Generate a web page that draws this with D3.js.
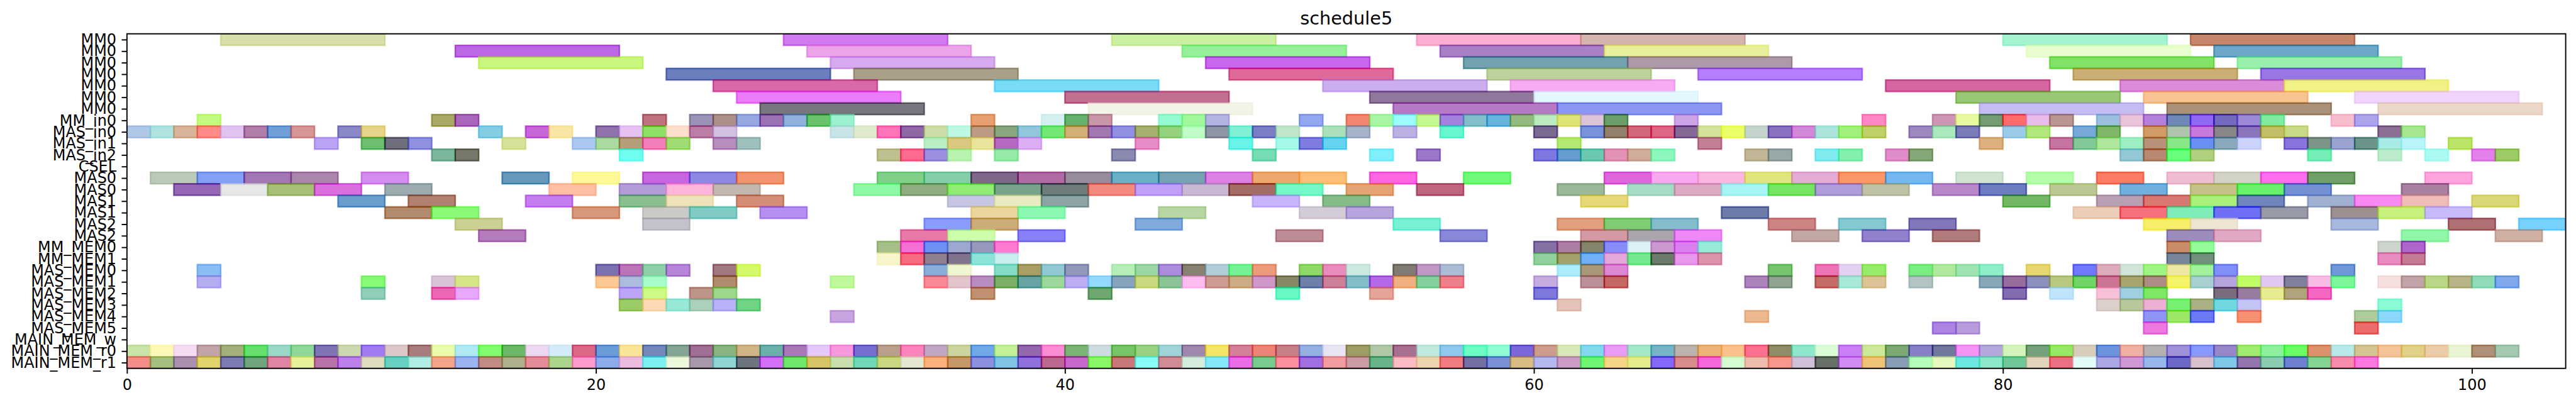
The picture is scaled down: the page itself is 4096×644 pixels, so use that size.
<!DOCTYPE html>
<html><head><meta charset="utf-8">
<script src="https://cdn.jsdelivr.net/npm/d3@7/dist/d3.min.js"></script>
<style>html,body{margin:0;padding:0;background:#fff;overflow:hidden}svg{display:block}</style>
</head><body><div id="chart"></div>
<script>
const rowLabels=["MM0","MM0","MM0","MM0","MM0","MM0","MM0","MM_in0","MAS_in0","MAS_in1","MAS_in2","CSEL","MAS0","MAS0","MAS1","MAS1","MAS2","MAS2","MM_MEM0","MM_MEM1","MAS_MEM0","MAS_MEM1","MAS_MEM2","MAS_MEM3","MAS_MEM4","MAS_MEM5","MAIN_MEM_w","MAIN_MEM_r0","MAIN_MEM_r1"];
const durations=[7,7,7,7,7,7,7,1,1,1,1,1,2,2,2,2,2,2,1,1,1,1,1,1,1,1,1,1,1];
const xTicks=[0,20,40,60,80,100];
const chartTitle="schedule5";
// each pair: start cycle, colour as seen on white
const row00=[[4,"d8dea8"],[28,"d07af0"],[42,"cbefa0"],[55,"fdaed2"],[62,"d4b4ac"],[80,"a4f4d2"],[88,"c5866c"]];
const row01=[[14,"bc68e4"],[29,"eba4ea"],[45,"96f09a"],[56,"a980c5"],[63,"e9f09b"],[81,"e9fecf"],[89,"6ea8c8"]];
const row02=[[15,"c9f67c"],[30,"d7a9ef"],[46,"c966ee"],[57,"72a2ae"],[64,"ac9aa9"],[82,"81e267"],[90,"98f0aa"]];
const row03=[[23,"6b7ebd"],[31,"a9a08a"],[47,"e0699b"],[58,"bdd19c"],[67,"b47efe"],[83,"cbae76"],[91,"9876e4"]];
const row04=[[25,"da69aa"],[37,"78dcf7"],[51,"cbaeee"],[59,"f7abf5"],[75,"d565a1"],[85,"da8cd8"],[92,"f0f285"]];
const row05=[[26,"ea7bf9"],[40,"c26f92"],[53,"90789c"],[60,"e4f6fe"],[78,"98c876"],[86,"f7c391"],[95,"f0d4fb"]];
const row06=[[27,"787780"],[41,"f3f3e8"],[54,"b679c3"],[61,"8c96f4"],[79,"c5bcf1"],[87,"aa927a"],[96,"ecd8ca"]];
const row07=[[3,"c2fb80"],[13,"aaa865"],[14,"aa68bd"],[22,"bf717d"],[24,"9a92b7"],[25,"ac8f88"],[26,"98a8e0"],[27,"9b73b5"],[28,"8fb1db"],[29,"69c36d"],[30,"9cf2cf"],[36,"e8a070"],[39,"d6f0f2"],[40,"68b06e"],[41,"c998a8"],[44,"96fbd0"],[45,"a0f89c"],[46,"b4b4e2"],[50,"93a7f0"],[52,"f3866f"],[53,"a8f6a4"],[54,"9cfefc"],[55,"c4f890"],[56,"a281df"],[57,"82bfca"],[58,"66b4dc"],[59,"94ba80"],[60,"bbecbf"],[61,"dfe277"],[62,"dbc4d8"],[63,"6c9e6b"],[66,"cba5e6"],[74,"ff88c4"],[77,"ce96b5"],[78,"e8faa0"],[79,"739c74"],[80,"ff6a6a"],[81,"e9bbe8"],[82,"ba9690"],[84,"9dbfde"],[85,"e9c4da"],[86,"b481da"],[87,"6f88b7"],[88,"8f69f3"],[89,"736ac0"],[90,"9c8ad8"],[91,"80eba0"],[94,"f7bdcc"],[95,"aca4ec"]];
const row08=[[0,"b0c8e8"],[1,"b0e2df"],[2,"d8b498"],[3,"ff8a86"],[4,"e0c4f0"],[5,"b07ea8"],[6,"709ed8"],[7,"d69696"],[9,"8a88c6"],[10,"e6d488"],[15,"84cee4"],[17,"c666d8"],[18,"fae6a4"],[20,"8e72aa"],[21,"e6c2f2"],[22,"8fe060"],[23,"fddfce"],[24,"bc7ea6"],[25,"d2c0e0"],[30,"c8e4e6"],[31,"dfeacf"],[32,"ff74b8"],[33,"9168a6"],[34,"ccdea8"],[35,"bef8e2"],[36,"bc9a84"],[37,"8aa680"],[38,"92c6dc"],[39,"74e874"],[40,"d4b078"],[41,"a278b0"],[42,"9290e2"],[43,"a4b070"],[44,"94d280"],[45,"c0fcc8"],[46,"8e96a6"],[47,"80f0d6"],[48,"7a7ec4"],[49,"c0e6c8"],[51,"aae0bc"],[52,"a6b4ca"],[54,"bcb0e4"],[56,"68f6d0"],[60,"7b6a94"],[62,"7892dc"],[63,"92806c"],[64,"d2687a"],[65,"de6684"],[66,"846896"],[67,"d4e29c"],[68,"ecff68"],[69,"c4d4cc"],[70,"8a72c0"],[71,"d288d8"],[72,"ace4dc"],[73,"a2f07c"],[74,"bed068"],[76,"9e88c0"],[77,"aae8be"],[78,"7a7cb8"],[80,"9ccbea"],[81,"b0e87c"],[83,"78a8d8"],[84,"80b668"],[86,"d29c64"],[87,"b0c4ae"],[88,"c87adc"],[89,"888688"],[90,"8a74bc"],[91,"c2bf68"],[92,"c8d988"],[96,"8c7094"],[97,"a6e68e"]];
const row09=[[8,"baa2f4"],[10,"6ebe70"],[11,"706f7c"],[12,"9090e0"],[16,"d6e29a"],[19,"acc8f2"],[20,"aadaa0"],[21,"b49e78"],[22,"f27eba"],[23,"a0dc74"],[25,"b88cbc"],[26,"a0c0be"],[34,"b8eec4"],[35,"dac880"],[36,"e8e49c"],[37,"b468c0"],[38,"deaef4"],[43,"e88cc8"],[47,"68f4e8"],[49,"a4f8e8"],[50,"7e7cdf"],[51,"66d4f0"],[61,"b4e870"],[67,"c28094"],[79,"dcb080"],[82,"c4749e"],[83,"82c898"],[84,"aee69c"],[85,"9eeec4"],[86,"b89278"],[87,"88e888"],[88,"6a90f6"],[89,"8aaabc"],[90,"ccd4fb"],[92,"8874dc"],[93,"7e9488"],[94,"9ba4d0"],[95,"6a948a"],[96,"a8eae4"],[97,"b8f4fa"],[99,"bce468"]];
const row10=[[13,"7cb69c"],[14,"78786a"],[21,"70fef0"],[32,"bec090"],[33,"ff6a90"],[34,"9c8ee0"],[35,"b8f4b0"],[37,"94eaa6"],[42,"8a8ab0"],[48,"76dcb4"],[53,"80effc"],[55,"9c78c8"],[60,"7e78e0"],[61,"669cd0"],[62,"6cc8b0"],[63,"e292b6"],[64,"d0ac9a"],[65,"8cf6bc"],[69,"c2b698"],[70,"98a8a8"],[72,"80ecf0"],[73,"84f0b0"],[75,"e08cc8"],[76,"86a878"],[85,"94c8d4"],[86,"b88870"],[87,"68ff7c"],[88,"b0d080"],[93,"76eeb8"],[96,"bdeccc"],[98,"abfaf2"],[100,"e480ec"],[101,"9ecb68"]];
const row11=[];
const row12=[[1,"bccab8"],[3,"84a0f4"],[5,"a278b4"],[7,"aa86ac"],[10,"d48cf0"],[16,"6498bc"],[19,"fdf89a"],[22,"c866e0"],[24,"8c88e4"],[26,"f2946e"],[32,"80d088"],[34,"84ceaa"],[36,"806888"],[38,"b06aa4"],[40,"988c9c"],[42,"68b0c8"],[44,"76a2b4"],[46,"dc80e4"],[48,"eea86e"],[50,"febe78"],[53,"fc66e0"],[57,"70fa78"],[63,"e066dc"],[65,"f7a8f0"],[67,"fab8e0"],[69,"e0e580"],[71,"e4acd4"],[73,"fc9868"],[75,"74b8f2"],[78,"d0e2d0"],[81,"b4feaa"],[84,"fc7c66"],[87,"f0bcd2"],[89,"d2d2c6"],[91,"fe6ef0"],[93,"70a068"],[98,"ffa4dd"]];
const row13=[[2,"9468b4"],[4,"e6e8e8"],[6,"a6c078"],[8,"da70de"],[11,"9cacb0"],[18,"ffc0a4"],[21,"b49cd8"],[23,"ffb4dc"],[25,"c2b8b0"],[31,"8ef8a4"],[33,"90ac80"],[35,"90ec74"],[37,"78a28a"],[39,"6e7c7c"],[41,"f28a80"],[43,"c0a0f8"],[45,"c8b8d4"],[47,"a46e66"],[49,"74f8c8"],[52,"e6a474"],[55,"be6680"],[61,"9cb89a"],[64,"a6dcc4"],[66,"dcaac4"],[68,"a8f4f4"],[70,"78e464"],[72,"b09cd8"],[74,"c0c2a8"],[77,"b888c8"],[79,"6e7cc0"],[82,"bcc894"],[85,"70b0dc"],[88,"c4c288"],[90,"68f26c"],[92,"7490d4"],[97,"a880a0"]];
const row14=[[9,"6a9ccc"],[12,"b08070"],[17,"c47ef0"],[21,"88c090"],[23,"eee2b8"],[26,"d48e78"],[35,"c4c6e2"],[37,"e8ecc0"],[39,"8ea4a4"],[48,"c8b4f8"],[51,"84bc88"],[62,"e4d878"],[80,"74b866"],[84,"b8a0b4"],[86,"d87870"],[88,"aaf07c"],[90,"7284bc"],[93,"a0b0d0"],[95,"f888f4"],[97,"f0bcb8"],[100,"d8d878"]];
const row15=[[11,"b28a6c"],[13,"8cfa78"],[19,"d8967a"],[22,"cacac6"],[24,"80ccc4"],[27,"b490f0"],[36,"e8d69c"],[38,"8cf9b2"],[44,"b8d6a4"],[50,"d4ccd8"],[52,"b8a4dc"],[68,"6e7aa8"],[83,"ecceb8"],[85,"f6707c"],[87,"80ecb8"],[89,"7070f6"],[91,"989aa8"],[94,"9e9090"],[96,"c8f07c"],[98,"c8baf8"]];
const row16=[[14,"ccd094"],[22,"c4c2cc"],[34,"8a9cfe"],[36,"ccac78"],[43,"80aadc"],[54,"78f0d4"],[61,"e2a080"],[63,"80cc74"],[65,"84bccc"],[70,"cc8484"],[73,"84c8d0"],[76,"8078b8"],[86,"f6ee66"],[88,"eee4d2"],[94,"a6b8dc"],[99,"ae7074"],[102,"76d2fc"]];
const row17=[[15,"b47cbc"],[33,"e878a8"],[35,"ccfeac"],[38,"8880f8"],[49,"be8c96"],[56,"8888d8"],[62,"d49aa4"],[64,"aca4ac"],[66,"ee88f8"],[71,"c2a8a4"],[74,"9280cc"],[77,"b07c7c"],[87,"9c8cbe"],[89,"e0a8c4"],[97,"90f6a8"],[101,"d0b0a4"]];
const row18=[[32,"a4c088"],[33,"f470d4"],[34,"6c90f4"],[35,"9ca8d0"],[36,"9898bc"],[37,"ff7ad0"],[60,"8670a4"],[61,"ac7ea4"],[62,"84846c"],[63,"888cf8"],[64,"dcf2f6"],[65,"cc98d0"],[66,"dc80f0"],[67,"96ecd8"],[87,"c88c68"],[88,"94fc98"],[96,"ccd4cc"],[97,"ae66cc"]];
const row19=[[32,"f8f6cc"],[33,"f86a80"],[34,"907f90"],[35,"80748c"],[36,"8ce4d8"],[37,"c8eef0"],[60,"90d09c"],[61,"a4a06c"],[62,"70b0f8"],[63,"e4a8d8"],[64,"74e88c"],[65,"6c7a6c"],[66,"e898ec"],[67,"dc94ac"],[87,"78869c"],[88,"72907c"],[96,"e88cc0"],[97,"c47c94"]];
const row20=[[3,"8cbcf4"],[20,"7c72b0"],[21,"bc74b8"],[22,"90d0a8"],[23,"b886d8"],[25,"a07880"],[26,"d4fa6c"],[34,"8aaed8"],[35,"f0f6d0"],[37,"84dcc8"],[38,"a89e66"],[39,"92c8d4"],[40,"9298b8"],[42,"b6eeb8"],[43,"9cd6a4"],[44,"ac8cdc"],[45,"888070"],[46,"b0cdd8"],[47,"74f294"],[48,"ec9c7c"],[50,"90d868"],[51,"e88cbc"],[52,"cce8e0"],[54,"807c74"],[55,"c098c4"],[56,"acbcd4"],[61,"acecfc"],[62,"a89878"],[63,"dc88d4"],[70,"78c470"],[72,"ec74b4"],[73,"e4d0f0"],[74,"98ec6c"],[76,"7cec84"],[77,"b0e8a0"],[78,"a0e4b4"],[79,"90eec8"],[81,"e6d670"],[83,"7078fe"],[84,"dcacbc"],[85,"d0e4d8"],[86,"a0f484"],[87,"ece8a4"],[88,"a4f09c"],[89,"8090f8"],[94,"7098d8"]];
const row21=[[3,"b4aef0"],[10,"88fa78"],[13,"d8c4d8"],[14,"d8e488"],[20,"fcc894"],[21,"acbcdc"],[22,"a8fccc"],[25,"b08c6c"],[30,"c0f89c"],[34,"f88894"],[35,"e4c4cc"],[36,"b88cc0"],[37,"7cb068"],[38,"68a4a4"],[39,"9cd89c"],[40,"bcacf0"],[41,"94daff"],[42,"88a4bc"],[43,"ccd880"],[44,"8cc498"],[45,"fcbcf0"],[46,"cc9c94"],[47,"ccac84"],[48,"d098c8"],[49,"888868"],[50,"6e80a8"],[51,"cc8098"],[52,"84bcc8"],[53,"b468e8"],[54,"f0b080"],[55,"84d09c"],[56,"ee808c"],[60,"c4ace0"],[62,"bc9098"],[63,"c46860"],[69,"ac84bc"],[70,"90a490"],[72,"c46c68"],[73,"a8e8d8"],[74,"dcc498"],[76,"b4c4c4"],[79,"88a8b8"],[80,"986c9c"],[81,"8c90bc"],[82,"b8c880"],[83,"70d464"],[84,"cc7494"],[85,"a8a470"],[86,"ac8c84"],[87,"f4f468"],[88,"a8d0d0"],[89,"b8a4dc"],[90,"c0fc60"],[91,"e0c8f0"],[92,"80809c"],[93,"f8bce4"],[94,"7cf698"],[96,"f6dfdf"],[97,"c0a4a8"],[98,"b8d888"],[99,"b8b488"],[100,"90dcb8"],[101,"80a8ec"]];
const row22=[[10,"90ceb8"],[13,"ec68b4"],[14,"e8a8fc"],[21,"bca4f8"],[22,"ccfa84"],[24,"bc9488"],[25,"9cd88c"],[36,"c09070"],[41,"6ea870"],[49,"68f8c4"],[53,"e4a498"],[60,"7c78dc"],[80,"846cb0"],[82,"c0e4fc"],[84,"f8c0d8"],[85,"a0d0e0"],[86,"7ce864"],[89,"7c6c80"],[90,"987ca0"],[91,"e8ec90"],[92,"b0a47c"],[93,"f468c4"]];
const row23=[[21,"9ccc68"],[22,"fcd8b4"],[23,"98e8d8"],[24,"acd0bc"],[25,"b8b0f8"],[26,"70d484"],[61,"e4c4b8"],[84,"dcd0cc"],[85,"b8c89c"],[86,"ecb0d4"],[87,"78f074"],[88,"a8b084"],[89,"70d8e0"],[90,"c4c4f4"],[96,"8cfcd4"]];
const row24=[[30,"c8a4e0"],[69,"ecb890"],[86,"9094f4"],[87,"9ce860"],[88,"6c78f4"],[90,"f89074"],[95,"accc9c"],[96,"8cd8fc"]];
const row25=[[77,"ac84e4"],[78,"b89cdc"],[86,"ec78e0"],[95,"ec6c6c"]];
const row26=[];
const row27Colours=["c8e4a8","fff8b8","f6dcf2","c0a4a8","a4b07c","64e06c","9cd8c8","90d898","8074b4","ccd8b0","a07cf4","dcc8c8","a87c7c","e8fcac","b0e8f4","84fc70","6cb868","ecd8f0","d4ecfa","dc6888","6c9cd8","fae498","7488bc","84a494","a07094","88b480","d0b488","6cb0ac","a878b8","e4c8fa","f898dc","7870d0","b8a08c","fc84bc","c0a8c4","ccd4a0","70a8e8","c4f098","9468ac","fc8cd4","7cb478","ccdce0","78c468","98d084","a0d4d8","a088ac","f4e468","d48098","ec8478","c88088","94b0e0","e8e4f4","a09c68","b0c8a8","a87090","c0e8dc","90c8ec","6cfcc4","90fcd4","7c68d8","cc9c8c","d8e8b8","84d8ec","e89cf4","a4e8c8","78b4c8","bcb4ac","ecb478","fcc08c","fc7090","908c68","90e8cc","dcfcd8","c880f4","cce898","7ca874","8880c4","70789c","f494f4","b4a8dc","d4f4bc","74a07c","98e864","d8ccbc","6c94dc","f0b0a4","b4b0b4","a090d8","8898fc","9888c8","a0ec70","8cf09c","6cfc64","dc906c","b8e8e8","d4c494","f4c498","e0d088","eccca8","e8f4d4","b09078","a4c8b0"];
const row28Colours=["f48c88","a4c080","ac90b0","e0d46c","7c7cb4","70a47c","e084a4","e8f098","b874a8","bc80ec","e0dcc0","68d0c0","b0ece4","f4a488","9cb4f0","c08c84","b0b08c","e48c98","acd48c","fc9ccc","8cacec","ecbce0","7cf0f0","ecf8dc","a898ac","90d4d4","6c7480","d470f8","70e86c","d8c468","c8deac","70d8b8","c8d880","e4e8d0","fcb07c","c49868","8c90e0","80c4e4","9070dc","bc6890","c868cc","88f860","c87878","88fcf8","d08c94","d4ecdc","84e8f8","ec6ce8","78cc90","fc90a0","a070e0","f09ca0","cc9ca4","68b488","fcbcc4","ecd4ac","f07c80","7470a4","7c90d8","d8bc84","b4b8ec","cc9cc4","70f474","f6d488","e4ec8c","8468f8","d88c8c","f468dc","d4fcd0","ecbcac","f8988c","d0c0d8","687068","d08cf4","f0c478","889cb4","b4fcb8","e4f8c0","6ce8e0","8ce8c8","70c898","e0d4bc","ec7084","e4fcf8","aca8e4","d098d4","98b8ec","6c68c8","d8c0cc","80c8e8","9474ac","8cccb0","7080d0","84d494","f88cac","fc78e0"];
const row27=row27Colours.map((c,i)=>[i,c]);
const row28=row28Colours.map((c,i)=>[i,c]);
const rows=[row00,row01,row02,row03,row04,row05,row06,row07,row08,row09,row10,row11,row12,row13,row14,row15,row16,row17,row18,row19,row20,row21,row22,row23,row24,row25,row26,row27,row28];

const k=4096/4748, W=4096, H=644, alpha=0.6;
const plotL=234*k, plotR=4729*k, plotT=62.3*k, plotB=679*k;
const x=d3.scaleLinear().domain([0,104]).range([plotL,plotR]);
const y=d3.scaleLinear().domain([-0.5,28.5]).range([plotT,plotB]);
const base=hex=>{const c=d3.rgb("#"+hex);const f=v=>Math.max(0,Math.min(255,(v-255*(1-alpha))/alpha));return d3.rgb(f(c.r),f(c.g),f(c.b)).formatHex();};
const bars=rows.flatMap((r,i)=>r.map(([s,c])=>({row:i,start:s,dur:durations[i],colour:base(c)})));

const svg=d3.select("#chart").append("svg").attr("width",W).attr("height",H).style("font-family","'DejaVu Sans'");
svg.append("defs").append("clipPath").attr("id","plot").append("rect")
  .attr("x",plotL).attr("y",plotT).attr("width",plotR-plotL).attr("height",plotB-plotT);
svg.append("g").attr("clip-path","url(#plot)").selectAll("rect").data(bars).join("rect")
  .attr("x",d=>x(d.start)).attr("y",d=>y(d.row-0.5))
  .attr("width",d=>x(d.start+d.dur)-x(d.start)).attr("height",d=>y(d.row+0.5)-y(d.row-0.5))
  .attr("fill",d=>d.colour).attr("fill-opacity",alpha)
  .attr("stroke",d=>d.colour).attr("stroke-opacity",alpha).attr("stroke-width",2.78*k);

const tickLen=9.72*k, pad=9.72*k, font=27.78*k, sw=2.22*k;
const xAxis=d3.axisBottom(x).tickValues(xTicks).tickFormat(d3.format("d")).tickSize(tickLen).tickPadding(pad);
const yAxis=d3.axisLeft(y).tickValues(d3.range(rowLabels.length)).tickFormat(i=>rowLabels[i]).tickSize(tickLen).tickPadding(pad);
[svg.append("g").attr("transform",`translate(0,${plotB})`).call(xAxis),
 svg.append("g").attr("transform",`translate(${plotL},0)`).call(yAxis)].forEach(g=>{
  g.selectAll("path.domain").remove();
  g.selectAll("line").attr("stroke","#000").attr("stroke-width",sw);
  g.selectAll("text").attr("fill","#000").style("font-family","'DejaVu Sans'").style("font-size",font+"px");
});
svg.append("rect").attr("x",plotL).attr("y",plotT).attr("width",plotR-plotL).attr("height",plotB-plotT)
  .attr("fill","none").attr("stroke","#000").attr("stroke-width",sw);
svg.append("text").attr("x",(plotL+plotR)/2).attr("y",45.7*k).attr("text-anchor","middle")
  .style("font-size",(33.33*k)+"px").attr("fill","#000").text(chartTitle);
</script></body></html>
